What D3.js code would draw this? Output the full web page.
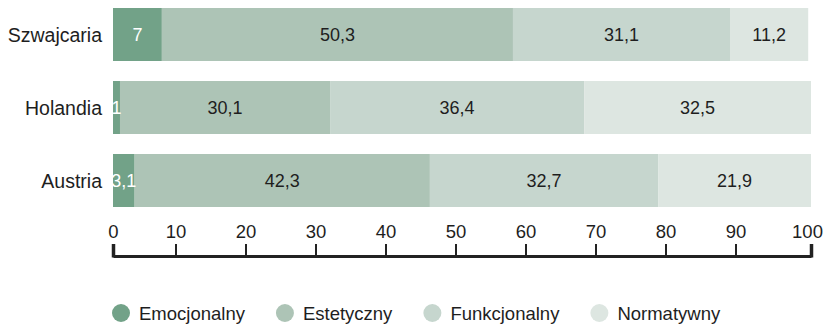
<!DOCTYPE html>
<html lang="pl">
<head>
<meta charset="utf-8">
<script src="https://cdn.jsdelivr.net/npm/d3@7"></script>
<style>
  html, body { margin: 0; padding: 0; background: #fff; }
  svg { display: block; font-family: "Liberation Sans", Arial, sans-serif; }
</style>
</head>
<body>
<svg id="chart" width="831" height="325"></svg>
<script>
// Kraje i udział poszczególnych typów (w %)
const categories = ["Szwajcaria", "Holandia", "Austria"];
const seriesNames = ["Emocjonalny", "Estetyczny", "Funkcjonalny", "Normatywny"];
const emocjonalny = [7, 1, 3.1];
const estetyczny = [50.3, 30.1, 42.3];
const funkcjonalny = [31.1, 36.4, 32.7];
const normatywny = [11.2, 32.5, 21.9];
const tickValues = [0, 10, 20, 30, 40, 50, 60, 70, 80, 90, 100];
const colors = ["#72a288", "#adc4b6", "#c6d6ce", "#dde6e1"];
const labelColors = ["#ffffff", "#1e1e1e", "#1e1e1e", "#1e1e1e"];

const seriesValues = [emocjonalny, estetyczny, funkcjonalny, normatywny];
const rows = categories.map((c, i) => {
  const r = { kraj: c };
  seriesNames.forEach((s, k) => { r[s] = seriesValues[k][i]; });
  return r;
});

const svg = d3.select("#chart");
const locale = d3.formatLocale({ decimal: ",", thousands: " ", grouping: [3], currency: ["", " zł"] });
const fmt = locale.format("~g");

const x = d3.scaleLinear().domain([0, 100]).range([113, 811]);
const y = d3.scaleBand().domain(categories).range([-2, 217])
  .paddingInner(20 / 73).paddingOuter(10 / 73);

const stack = d3.stack().keys(seriesNames);
const stacked = stack(rows);

// Słupki skumulowane
const layers = svg.append("g").selectAll("g")
  .data(stacked)
  .join("g")
  .attr("fill", (d, i) => colors[i]);

layers.selectAll("rect")
  .data(d => d.map(p => ({ p, key: d.key })))
  .join("rect")
  .attr("x", d => x(d.p[0]))
  .attr("y", d => y(d.p.data.kraj))
  .attr("width", d => x(d.p[1]) - x(d.p[0]))
  .attr("height", y.bandwidth());

// Etykiety wartości w środku segmentów
stacked.forEach((layer, i) => {
  svg.append("g").selectAll("text")
    .data(layer)
    .join("text")
    .attr("x", d => (x(d[0]) + x(d[1])) / 2)
    .attr("y", d => y(d.data.kraj) + y.bandwidth() / 2)
    .attr("dy", "0.36em")
    .attr("text-anchor", "middle")
    .attr("font-size", 18)
    .attr("fill", labelColors[i])
    .text(d => fmt(d[1] - d[0]));
});

// Nazwy krajów
svg.append("g").selectAll("text")
  .data(categories)
  .join("text")
  .attr("x", 102)
  .attr("y", d => y(d) + y.bandwidth() / 2)
  .attr("dy", "0.36em")
  .attr("text-anchor", "end")
  .attr("font-size", 19.5)
  .attr("fill", "#1e1e1e")
  .text(d => d);

// Oś: skrajne znaczniki na krawędziach słupków, wewnętrzne na wsuniętej siatce
const tickScale = d3.scaleLinear().domain([0, 10, 90, 100]).range([113, 175.5, 735.5, 811]);
const axis = d3.axisTop(tickScale)
  .tickValues(tickValues)
  .tickSizeInner(12)
  .tickSizeOuter(0)
  .tickPadding(6)
  .tickFormat(d => fmt(d));

const axisG = svg.append("g")
  .attr("transform", "translate(0,256)")
  .call(axis);

axisG.select(".domain")
  .attr("stroke", "#222")
  .attr("stroke-width", 3);
axisG.selectAll(".tick line")
  .attr("stroke", "#222")
  .attr("stroke-width", d => (d === 0 || d === 100) ? 3.5 : 2)
  .attr("y1", 1.5);
axisG.selectAll(".tick text")
  .attr("font-size", 18.5)
  .attr("fill", "#1e1e1e")
  .attr("font-family", "'Liberation Sans', Arial, sans-serif")
  .attr("dx", d => d === 100 ? -4 : 0);

// Legenda
const legend = svg.append("g").attr("transform", "translate(112,313)");
let offset = 0;
seriesNames.forEach((name, i) => {
  const item = legend.append("g").attr("transform", `translate(${offset},0)`);
  item.append("circle")
    .attr("cx", 9)
    .attr("cy", 0)
    .attr("r", 9)
    .attr("fill", colors[i]);
  const t = item.append("text")
    .attr("x", 27)
    .attr("y", 0)
    .attr("dy", "0.36em")
    .attr("font-size", 18.5)
    .attr("fill", "#1e1e1e")
    .text(name);
  offset += 27 + t.node().getComputedTextLength() + 31;
});
</script>
</body>
</html>
